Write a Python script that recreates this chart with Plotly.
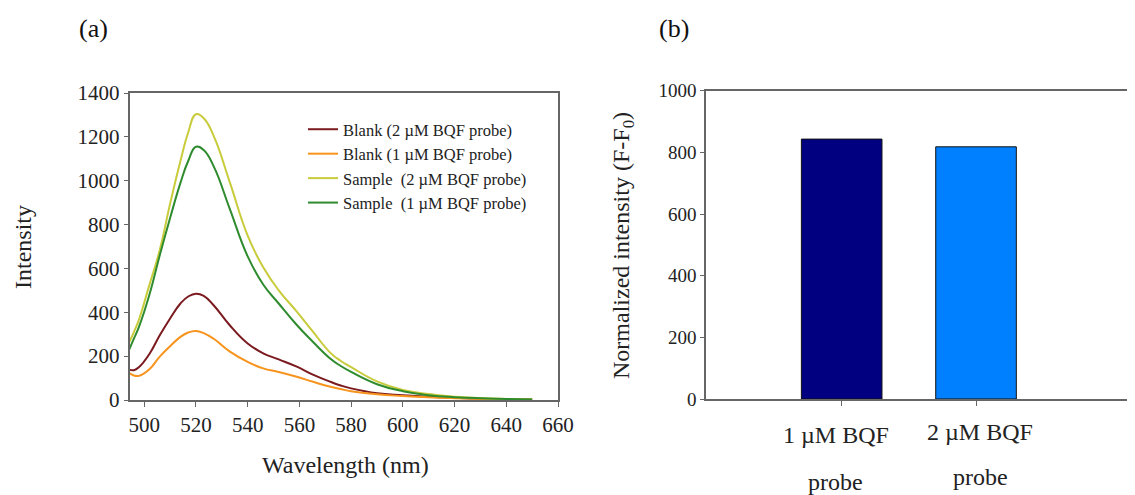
import plotly.graph_objects as go

# ---------------- Data ----------------
wavelength = [494, 496, 498, 502, 506, 510, 514, 517, 520, 523, 527, 533, 540, 546,
              552, 559, 565, 572, 576, 580, 590, 600, 610, 620, 630, 640, 650]
blank_2uM = [140, 136, 150, 210, 295, 372, 440, 472, 485, 475, 430, 342, 258, 213,
             185, 152, 117, 83, 66, 53, 31, 22, 15, 10, 6, 4, 2]
blank_1uM = [125, 112, 110, 140, 198, 245, 288, 308, 315, 305, 278, 222, 174, 144,
             128, 106, 84, 60, 50, 40, 26, 18, 12, 8, 5, 3, 1]
sample_2uM = [258, 310, 368, 525, 684, 895, 1090, 1220, 1303, 1285, 1200, 996, 750, 605,
              500, 403, 315, 215, 178, 150, 85, 46, 27, 15, 9, 5, 2]
sample_1uM = [225, 280, 335, 480, 660, 830, 990, 1090, 1155, 1140, 1062, 874, 655, 527,
              440, 342, 268, 188, 155, 128, 72, 40, 22, 13, 8, 5, 2]

series_names = ["Blank (2 \u00b5M BQF probe)", "Blank (1 \u00b5M BQF probe)",
                "Sample\u00a0 (2 \u00b5M BQF probe)", "Sample\u00a0 (1 \u00b5M BQF probe)"]
series_colors = ["#7B1A1F", "#F7941D", "#C8CB3A", "#2E8B2E"]

x_ticks = [500, 520, 540, 560, 580, 600, 620, 640, 660]
y_ticks_a = [0, 200, 400, 600, 800, 1000, 1200, 1400]

bar_categories = ["1 \u00b5M BQF probe", "2 \u00b5M BQF probe"]
bar_line1 = ["1 \u00b5M BQF", "2 \u00b5M BQF"]
bar_line2 = ["probe", "probe"]
bar_values = [843, 818]
bar_colors = ["#000080", "#0080FF"]
y_ticks_b = [0, 200, 400, 600, 800, 1000]

# ---------------- Figure ----------------
W, H = 1135, 495
OFF = 8  # page body margin offset
FONT = "Liberation Serif, Times New Roman, serif"
TXT = "#222222"
AX = "#666666"

fig = go.Figure()
for ys, name, col in zip([blank_2uM, blank_1uM, sample_2uM, sample_1uM], series_names, series_colors):
    fig.add_trace(go.Scatter(x=wavelength, y=ys, name=name, mode="lines",
                             line=dict(color=col, width=2, shape="spline", smoothing=1.3),
                             xaxis="x", yaxis="y"))

fig.add_trace(go.Bar(x=bar_categories, y=bar_values, marker=dict(color=bar_colors,
                     line=dict(color="#111111", width=1)), width=0.6,
                     showlegend=False, xaxis="x2", yaxis="y2"))

def px_x(p):
    return (p - OFF) / W

def px_y(p):
    return 1 - (p - OFF) / H

fig.update_layout(
    width=W, height=H,
    margin=dict(l=0, r=0, t=0, b=0, pad=0),
    paper_bgcolor="white", plot_bgcolor="white",
    font=dict(family=FONT, color=TXT),
    xaxis=dict(domain=[px_x(129.5), px_x(558)], range=[494.3, 660], automargin=False,
               tickvals=x_ticks, ticks="outside", ticklen=5, tickcolor=AX,
               showline=True, linecolor=AX, linewidth=1.5, mirror=True,
               showgrid=False, zeroline=False, tickfont=dict(size=21, color=TXT),
               anchor="y"),
    yaxis=dict(domain=[px_y(400), px_y(93)], range=[0, 1400], automargin=False,
               tickvals=y_ticks_a, ticks="outside", ticklen=4, tickcolor=AX,
               showline=True, linecolor=AX, linewidth=1.5, mirror=True,
               showgrid=False, zeroline=False, tickfont=dict(size=21, color=TXT),
               anchor="x"),
    xaxis2=dict(domain=[px_x(706), 1.0], range=[-1.01, 2.243], type="category",
                automargin=False,
                ticks="outside", ticklen=5, tickcolor=AX, showticklabels=False,
                showline=True, linecolor=AX, linewidth=1.5, mirror=True,
                showgrid=False, zeroline=False, anchor="y2"),
    yaxis2=dict(domain=[px_y(399), px_y(90.7)], range=[0, 1000], automargin=False,
                tickvals=y_ticks_b, ticks="outside", ticklen=4, tickcolor=AX,
                showline=True, linecolor=AX, linewidth=1.5, mirror=False,
                showgrid=False, zeroline=False, tickfont=dict(size=19, color=TXT),
                anchor="x2"),
    legend=dict(x=px_x(303), y=px_y(112), xanchor="left", yanchor="top",
                bgcolor="rgba(0,0,0,0)", font=dict(size=16.5, color=TXT),
                tracegroupgap=0, itemwidth=30),
    showlegend=True,
)

def ann(text, x, y, size, xref="paper", angle=0, xshift=0, color=TXT):
    return dict(text=text, x=x, y=y, xref=xref, yref="paper", xanchor="center",
                yanchor="middle", textangle=angle, xshift=xshift, showarrow=False,
                font=dict(size=size, color=color))

annotations = [
    ann("(a)", px_x(93), px_y(28), 26, color="#111111"),
    ann("(b)", px_x(674), px_y(28), 26, color="#111111"),
    ann("Intensity", px_x(23), px_y(247), 24, angle=-90),
    ann("Wavelength (nm)", px_x(345), px_y(465), 24),
    ann("Normalized intensity (F-F<sub>0</sub>)", px_x(623), px_y(246), 24, angle=-90),
]
line1_y = [435, 432]
line2_y = [482, 477]
shifts = [-6, 4]
for i, cat in enumerate(bar_categories):
    annotations.append(ann(bar_line1[i], cat, px_y(line1_y[i]), 24, xref="x2", xshift=shifts[i]))
    annotations.append(ann(bar_line2[i], cat, px_y(line2_y[i]), 24, xref="x2", xshift=shifts[i]))
fig.update_layout(annotations=annotations)

fig.write_html("out.html")
